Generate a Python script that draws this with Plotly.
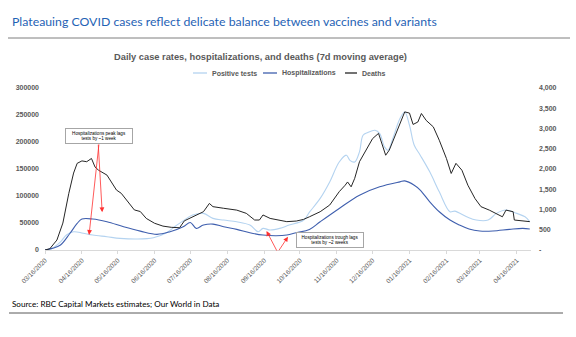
import plotly.graph_objects as go

# ---- data (7-day moving averages) ----
tests_dates = ["2020-03-16", "2020-03-22", "2020-03-29", "2020-04-03", "2020-04-09", "2020-04-17",
               "2020-04-25", "2020-05-07", "2020-05-18", "2020-06-01", "2020-06-15", "2020-06-26",
               "2020-07-04", "2020-07-13", "2020-07-18", "2020-07-27", "2020-08-04", "2020-08-13",
               "2020-08-24", "2020-09-04", "2020-09-11", "2020-09-15", "2020-09-21", "2020-09-29",
               "2020-10-07", "2020-10-19", "2020-10-24", "2020-11-02", "2020-11-10", "2020-11-18",
               "2020-11-24", "2020-11-27", "2020-12-01", "2020-12-05", "2020-12-08", "2020-12-12",
               "2020-12-18", "2020-12-22", "2020-12-26", "2020-12-29", "2021-01-02", "2021-01-08",
               "2021-01-12", "2021-01-16", "2021-01-20", "2021-01-25", "2021-02-02", "2021-02-10",
               "2021-02-19", "2021-02-23", "2021-03-05", "2021-03-13", "2021-03-23", "2021-03-30",
               "2021-04-07", "2021-04-16", "2021-04-23", "2021-04-27"]
tests_vals = [0, 3000, 15000, 27700, 33800, 31000,
              27700, 24600, 21600, 20300, 22700, 32000,
              45000, 58600, 64700, 67800, 58600, 55400,
              52300, 46200, 33800, 40000, 37000, 40000,
              46200, 55000, 70000, 95500, 126000, 163000,
              175600, 166000, 163000, 181700, 212500, 217500,
              221700, 215600, 191000, 184800, 206400, 243400,
              255600, 231000, 194000, 175600, 144700, 107700,
              70800, 72000, 61500, 55400, 55400, 67800,
              74000, 67800, 61500, 52300]

hosp_dates = ["2020-03-16", "2020-03-22", "2020-03-29", "2020-04-06", "2020-04-12", "2020-04-16",
              "2020-04-25", "2020-05-07", "2020-05-21", "2020-06-04", "2020-06-18", "2020-06-29",
              "2020-07-10", "2020-07-16", "2020-07-21", "2020-07-27", "2020-08-04", "2020-08-13",
              "2020-08-24", "2020-09-04", "2020-09-15", "2020-09-26", "2020-10-05", "2020-10-13",
              "2020-10-24", "2020-11-02", "2020-11-18", "2020-12-05", "2020-12-22", "2021-01-08",
              "2021-01-12", "2021-01-20", "2021-01-25", "2021-02-02", "2021-02-10", "2021-02-19",
              "2021-02-27", "2021-03-07", "2021-03-16", "2021-03-27", "2021-04-10", "2021-04-21",
              "2021-04-27"]
hosp_vals = [0, 3000, 9200, 31000, 49300, 57300,
             57300, 52300, 43000, 35000, 29000, 33800,
             43000, 51000, 40000, 46200, 48000, 43000,
             38200, 32000, 27700, 26500, 27700, 32000,
             38000, 52300, 77000, 101600, 117000, 126200,
             128000, 120000, 111000, 89300, 70800, 55400,
             46200, 38800, 35100, 35100, 38200, 40000,
             39000]

deaths_dates = ["2020-03-16", "2020-03-20", "2020-03-26", "2020-03-31", "2020-04-05", "2020-04-09",
                "2020-04-12", "2020-04-16", "2020-04-20", "2020-04-24", "2020-04-27", "2020-04-30",
                "2020-05-07", "2020-05-11", "2020-05-15", "2020-05-19", "2020-05-25", "2020-05-30",
                "2020-06-04", "2020-06-09", "2020-06-16", "2020-06-23", "2020-06-30", "2020-07-07",
                "2020-07-11", "2020-07-18", "2020-07-27", "2020-08-01", "2020-08-04", "2020-08-13",
                "2020-08-24", "2020-09-01", "2020-09-08", "2020-09-12", "2020-09-15", "2020-09-21",
                "2020-09-29", "2020-10-05", "2020-10-13", "2020-10-19", "2020-10-24", "2020-11-02",
                "2020-11-10", "2020-11-18", "2020-11-23", "2020-11-25", "2020-11-28", "2020-12-01",
                "2020-12-05", "2020-12-11", "2020-12-16", "2020-12-21", "2020-12-23", "2020-12-27",
                "2020-12-30", "2021-01-04", "2021-01-08", "2021-01-12", "2021-01-16", "2021-01-19",
                "2021-01-23", "2021-01-26", "2021-01-30", "2021-02-05", "2021-02-10", "2021-02-16",
                "2021-02-20", "2021-02-24", "2021-03-01", "2021-03-06", "2021-03-12", "2021-03-17",
                "2021-03-24", "2021-03-30", "2021-04-04", "2021-04-07", "2021-04-13", "2021-04-14",
                "2021-04-21", "2021-04-27"]
deaths_vals = [0, 30, 246, 665, 1400, 1900,
               2140, 2200, 2180, 2260, 2050, 1970,
               1850, 1680, 1480, 1400, 1190, 990,
               950, 780, 660, 590, 560, 550,
               720, 820, 945, 1150, 1070, 1030,
               985, 905, 740, 740, 865, 780,
               740, 700, 715, 755, 820, 945,
               1110, 1440, 1600, 1680, 1560, 1770,
               2180, 2500, 2750, 2880, 2710, 2340,
               2465, 2835, 3160, 3410, 3380, 3100,
               3160, 3370, 3200, 3040, 2710, 2260,
               1890, 2140, 1970, 1600, 1270, 1070,
               985, 905, 820, 985, 945, 740,
               715, 700]

x_ticks = ["2020-03-16", "2020-04-16", "2020-05-16", "2020-06-16", "2020-07-16", "2020-08-16",
           "2020-09-16", "2020-10-16", "2020-11-16", "2020-12-16", "2021-01-16", "2021-02-16",
           "2021-03-16", "2021-04-16"]
left_ticks = [0, 50000, 100000, 150000, 200000, 250000, 300000]
right_ticks = [0, 500, 1000, 1500, 2000, 2500, 3000, 3500, 4000]
right_labels = ["-", "500", "1,000", "1,500", "2,000", "2,500", "3,000", "3,500", "4,000"]

# ---- page geometry ----
W, H = 576, 337
L, R, T, B = 45, 45, 88, 87
PW, PH = W - L - R, H - T - B


def px(x):
    return (x - L) / PW


def py(y):
    return (H - B - y) / PH


GRAY = "#595959"
C_TESTS = "#B4D3F0"
C_HOSP = "#3F5FAE"
C_DEATHS = "#262626"
FONT = "Liberation Sans, Arial, sans-serif"
HEAD_FONT = "Lato, Open Sans, sans-serif"

fig = go.Figure()
fig.add_trace(go.Scatter(x=tests_dates, y=tests_vals, mode="lines", name="Positive tests",
                         line=dict(color=C_TESTS, width=1.1), line_shape="spline"))
fig.add_trace(go.Scatter(x=hosp_dates, y=hosp_vals, mode="lines", name="Hospitalizations",
                         line=dict(color=C_HOSP, width=1.1), line_shape="spline"))
fig.add_trace(go.Scatter(x=deaths_dates, y=deaths_vals, mode="lines", name="Deaths", yaxis="y2",
                         line=dict(color=C_DEATHS, width=1.0)))

fig.update_layout(
    width=W, height=H,
    margin=dict(l=L, r=R, t=T, b=B, pad=0),
    paper_bgcolor="white", plot_bgcolor="white",
    showlegend=False,
    font=dict(family=FONT, color=GRAY),
    xaxis=dict(type="date", range=["2020-03-16", "2021-04-28"], tickvals=x_ticks,
               tickformat="%m/%d/%Y", tickangle=-45, tickfont=dict(size=6.5, color=GRAY),
               showgrid=False, showline=True, linecolor="#D9D9D9", linewidth=1,
               ticks="outside", ticklen=3, tickcolor="#D9D9D9", zeroline=False),
    yaxis=dict(range=[0, 300000], tickvals=left_ticks, ticktext=[str(v) for v in left_ticks],
               tickfont=dict(size=7, color=GRAY, weight="bold"), showgrid=False,
               showline=False, zeroline=False, ticks="", ticklabelstandoff=5),
    yaxis2=dict(range=[0, 4000], overlaying="y", side="right", tickvals=right_ticks,
                ticktext=right_labels, tickfont=dict(size=7, color=GRAY, weight="bold"),
                showgrid=False, showline=False, zeroline=False, ticks="", ticklabelstandoff=7),
)

shapes = []
annots = []

# page heading and rules
annots.append(dict(x=px(10), y=py(21.5), xref="paper", yref="paper", xanchor="left", yanchor="middle",
                   text="Plateauing COVID cases reflect delicate balance between vaccines and variants",
                   showarrow=False, font=dict(family=HEAD_FONT, size=12.3, color="#1F63B5")))
shapes.append(dict(type="line", xref="paper", yref="paper", x0=px(8), x1=px(570), y0=py(38), y1=py(38),
                   line=dict(color="#7F7F7F", width=1)))
annots.append(dict(x=px(260), y=py(57), xref="paper", yref="paper", xanchor="center", yanchor="middle",
                   text="Daily case rates, hospitalizations, and deaths (7d moving average)",
                   showarrow=False, font=dict(size=9.3, color=GRAY, weight="bold")))

# legend
legend_items = [("Positive tests", C_TESTS, 193, 207), ("Hospitalizations", C_HOSP, 263, 277),
                ("Deaths", C_DEATHS, 345, 357)]
for name, col, x0, x1 in legend_items:
    shapes.append(dict(type="line", xref="paper", yref="paper", x0=px(x0), x1=px(x1),
                       y0=py(73), y1=py(73), line=dict(color=col, width=1.3)))
    annots.append(dict(x=px(x1 + 3), y=py(73), xref="paper", yref="paper", xanchor="left",
                       yanchor="middle", text=name, showarrow=False,
                       font=dict(size=7, color=GRAY, weight="bold")))

# source and bottom rule
annots.append(dict(x=px(10), y=py(304), xref="paper", yref="paper", xanchor="left", yanchor="middle",
                   text="Source: RBC Capital Markets estimates; Our World in Data", showarrow=False,
                   font=dict(family=HEAD_FONT, size=8.1, color="#000000")))
shapes.append(dict(type="line", xref="paper", yref="paper", x0=px(9), x1=px(563), y0=py(313), y1=py(313),
                   line=dict(color="#595959", width=1)))

# callout boxes
box_font = dict(size=4.6, color="#000000")
annots.append(dict(x=px(99), y=py(135.8), xref="paper", yref="paper", xanchor="center", yanchor="middle",
                   text="Hospitalizations peak lags<br>tests by ~1 week", showarrow=False,
                   font=box_font, bgcolor="white", bordercolor="#A6A6A6", borderwidth=1,
                   borderpad=1, width=64, height=12))
annots.append(dict(x=px(330.3), y=py(239.7), xref="paper", yref="paper", xanchor="center", yanchor="middle",
                   text="Hospitalizations trough lags<br>tests by ~2 weeks", showarrow=False,
                   font=box_font, bgcolor="white", bordercolor="#A6A6A6", borderwidth=1,
                   borderpad=1, width=64, height=12))

# red arrows: head at a curve point, tail at the callout
arrow = dict(showarrow=True, arrowhead=2, arrowsize=1.2, arrowwidth=0.8, arrowcolor="#FF3030",
             text="", standoff=0, xref="x", yref="y")
annots.append(dict(arrow, x="2020-04-22", y=28000, ax=10, ay=-92))
annots.append(dict(arrow, x="2020-05-03", y=70000, ax=-4, ay=-69))
annots.append(dict(arrow, x="2020-09-18", y=35000, ax=11, ay=21))
annots.append(dict(arrow, x="2020-10-06", y=24500, ax=-10, ay=15))

fig.update_layout(shapes=shapes, annotations=annots)
fig.write_html("out.html")
